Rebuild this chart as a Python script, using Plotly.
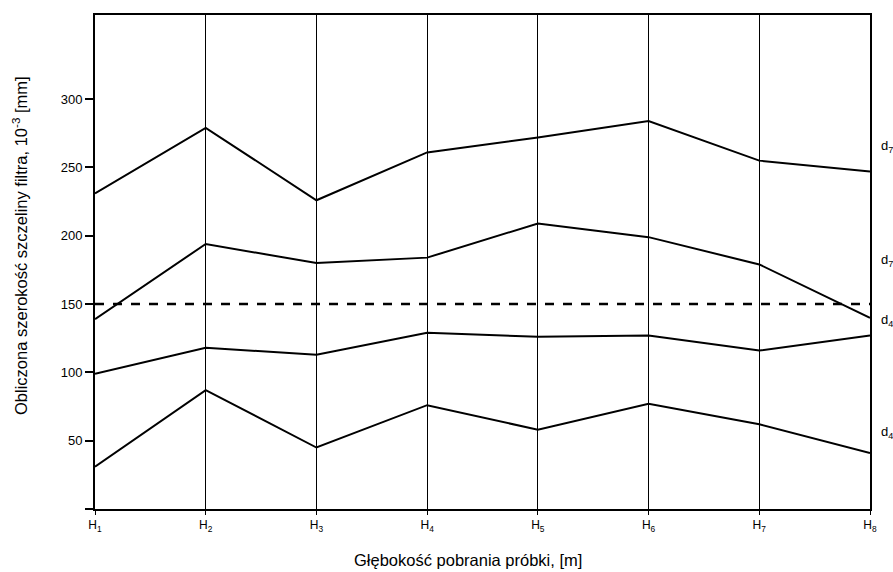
import plotly.graph_objects as go

categories = ["H<sub>1</sub>", "H<sub>2</sub>", "H<sub>3</sub>", "H<sub>4</sub>",
              "H<sub>5</sub>", "H<sub>6</sub>", "H<sub>7</sub>", "H<sub>8</sub>"]
series_a = [231, 279, 226, 261, 272, 284, 255, 247]
series_b = [139, 194, 180, 184, 209, 199, 179, 140]
series_c = [99, 118, 113, 129, 126, 127, 116, 127]
series_d = [31, 87, 45, 76, 58, 77, 62, 41]
threshold = 150
series_labels = ["d<sub>75</sub>", "d<sub>70</sub>", "d<sub>45</sub>", "d<sub>40</sub>"]
label_y = [265, 182, 138, 56]
y_ticks = [0, 50, 100, 150, 200, 250, 300]
y_ticktext = ["", "50", "100", "150", "200", "250", "300"]
x_title = "Głębokość pobrania próbki, [m]"
y_title = "Obliczona szerokość szczeliny filtra, 10<sup>-3</sup> [mm]"

xs = list(range(len(categories)))
fig = go.Figure()
for s in [series_a, series_b, series_c, series_d]:
    fig.add_trace(go.Scatter(x=xs, y=s, mode="lines",
                             line=dict(color="black", width=2), showlegend=False))
fig.add_trace(go.Scatter(x=[xs[0], xs[-1]], y=[threshold, threshold], mode="lines",
                         line=dict(color="black", width=2.5, dash="dash"), showlegend=False))

for t, yv in zip(series_labels, label_y):
    fig.add_annotation(x=1.0, xref="paper", y=yv, yref="y", text=t, showarrow=False,
                       xanchor="left", xshift=9, font=dict(size=13, color="black"))

fig.add_annotation(x=0.5, xref="paper", y=0, yref="paper", text=x_title, showarrow=False,
                   xanchor="center", yanchor="middle", xshift=-15, yshift=-51,
                   font=dict(size=16.5, color="black"))
fig.add_annotation(x=0, xref="paper", y=0.5, yref="paper", text=y_title, showarrow=False,
                   textangle=-90, xanchor="center", yanchor="middle", xshift=-75, yshift=16,
                   font=dict(size=16.5, color="black"))

fig.update_layout(
    width=893, height=572,
    margin=dict(l=95, r=23, t=15, b=63),
    paper_bgcolor="white", plot_bgcolor="white",
    font=dict(family="Liberation Sans, Arial, sans-serif", color="black"),
    xaxis=dict(range=[0, 7], tickvals=xs, ticktext=categories, showgrid=True,
               gridcolor="black", gridwidth=1, showline=True, linecolor="black",
               linewidth=2, mirror=True, ticks="outside", ticklen=4, tickcolor="black",
               zeroline=False, tickfont=dict(size=12)),
    yaxis=dict(range=[0, 361.6], tickvals=y_ticks, ticktext=y_ticktext, showgrid=False,
               showline=True, linecolor="black", linewidth=2, mirror=True,
               ticks="outside", ticklen=8, tickcolor="black", tickwidth=1.5,
               zeroline=False, tickfont=dict(size=13)),
)
fig.write_html("out.html")
